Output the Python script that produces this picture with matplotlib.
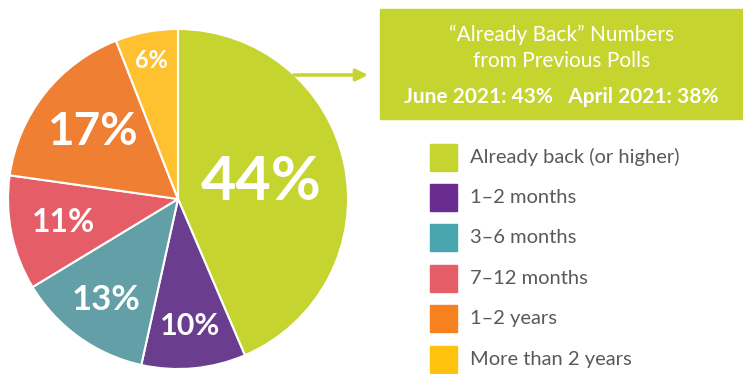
import numpy as np
import matplotlib
matplotlib.use("Agg")
from matplotlib import pyplot as plt
from matplotlib.patches import Rectangle

plt.rcParams['font.family'] = ['Lato', 'DejaVu Sans']

# Data
categories = ['Already back (or higher)', '1–2 months', '3–6 months',
              '7–12 months', '1–2 years', 'More than 2 years']
values = [44, 10, 13, 11, 17, 6]
pie_colors = ['#c5d42f', '#6a3d8f', '#639fa6', '#e55e67', '#ee7f33', '#ffc130']
legend_colors = ['#c5d42f', '#6a2d8f', '#48a5ad', '#e55e67', '#f5821f', '#ffc20e']
box_lines = ['“Already Back” Numbers', 'from Previous Polls']
prev_polls = ['June 2021: 43%', 'April 2021: 38%']

# per-slice label radius / size
label_r = [0.50, 0.75, 0.73, 0.69, 0.64, 0.83]
label_size = [44, 22, 25, 23, 33, 17]

W, H = 743, 374
fig = plt.figure(figsize=(W / 100, H / 100), dpi=100)

# pie axes: center (178, 199), radius 170 px
cx, cy, R = 178, 199, 170
ax = fig.add_axes([(cx - R) / W, (H - cy - R) / H, 2 * R / W, 2 * R / H])
wedges, _ = ax.pie(values, colors=pie_colors, startangle=90, counterclock=False,
                   radius=1, wedgeprops=dict(edgecolor='white', linewidth=1.5))
ax.set_xlim(-1, 1)
ax.set_ylim(-1, 1)
ax.set_aspect('auto')
ax.axis('off')

for w, v, r, s in zip(wedges, values, label_r, label_size):
    mid = np.radians((w.theta1 + w.theta2) / 2)
    ax.text(r * np.cos(mid), r * np.sin(mid), f'{v}%', color='white',
            fontsize=s, fontweight='bold', ha='center', va='center')

# overlay axes in pixel coordinates
ov = fig.add_axes([0, 0, 1, 1])
ov.set_xlim(0, W)
ov.set_ylim(H, 0)
ov.axis('off')

# green info box
ov.add_patch(Rectangle((380, 9), W - 380, 110, color='#c5d42f'))
bx = (380 + W) / 2
ov.text(bx, 35, box_lines[0], color='white', fontsize=15, ha='center', va='center')
ov.text(bx, 61, box_lines[1], color='white', fontsize=15, ha='center', va='center')
ov.text(bx, 97, '   '.join(prev_polls), color='white', fontsize=15,
        fontweight='bold', ha='center', va='center')

# arrow
ov.annotate('', xy=(368, 75), xytext=(294, 75),
            arrowprops=dict(arrowstyle='-|>,head_length=0.7,head_width=0.35',
                            color='#c5d42f', lw=2.5, shrinkA=0, shrinkB=0))

# legend
for i, (lab, c) in enumerate(zip(categories, legend_colors)):
    y = 157 + i * 40.4
    ov.add_patch(Rectangle((430, y - 13.5), 27, 27, color=c))
    ov.text(470, y, lab, color='#58595b', fontsize=14.5, ha='left', va='center')

fig.savefig('out.png', dpi=100)
